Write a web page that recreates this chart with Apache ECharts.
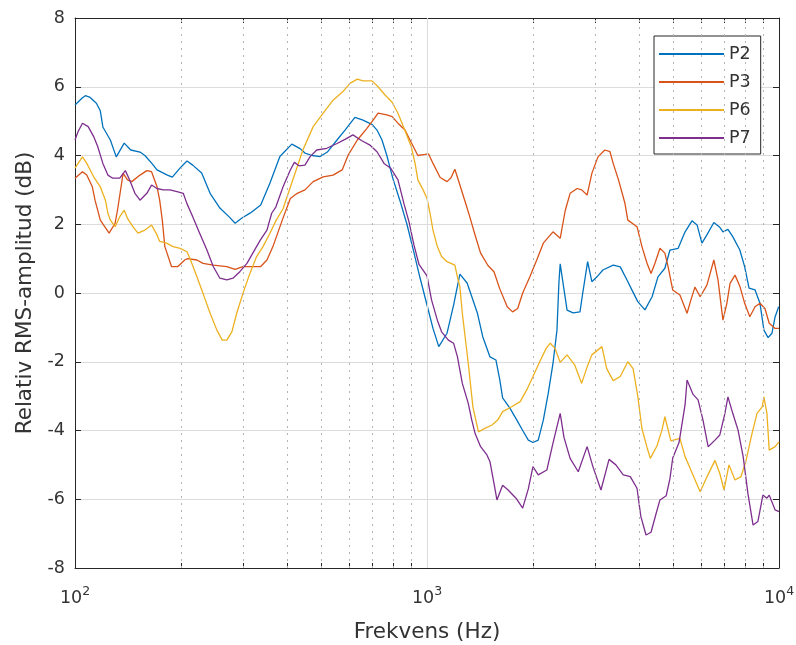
<!DOCTYPE html>
<html>
<head>
<meta charset="utf-8">
<script src="https://cdn.jsdelivr.net/npm/echarts@6/dist/echarts.min.js"></script>
<style>
html, body { margin: 0; padding: 0; background: #fff; }
#chart { width: 796px; height: 645px; }
</style>
</head>
<body>
<div id="chart"></div>
<script>
// axis ticks
var majorTicks = [100, 1000, 10000];
var minorTicks = [200, 300, 400, 500, 600, 700, 800, 900, 2000, 3000, 4000, 5000, 6000, 7000, 8000, 9000];

// P2
var p2Freq = [100, 105, 107, 110, 115, 118, 120, 126, 131, 138, 144, 153, 158, 166, 171, 183, 189, 199, 208, 216,
    229, 242, 258, 275, 285, 298, 315, 337, 358, 382, 413, 436, 450, 472, 497, 521, 555, 585, 624, 658,
    699, 721, 745, 769, 799, 837, 877, 912, 955, 1000, 1040, 1080, 1140, 1190, 1240, 1300, 1340, 1390, 1440, 1510,
    1570, 1610, 1640, 1720, 1800, 1870, 1940, 2000, 2070, 2140, 2210, 2280, 2340, 2370, 2390, 2420, 2500, 2600, 2720, 2770,
    2860, 2940, 3040, 3160, 3380, 3540, 3700, 3820, 3970, 4160, 4360, 4530, 4740, 4900, 5170, 5410, 5660, 5850, 6040, 6240,
    6530, 6790, 6930, 7160, 7390, 7740, 7990, 8220, 8550, 8830, 9060, 9310, 9550, 9750, 9980];
var p2Db = [5.47, 5.68, 5.74, 5.7, 5.52, 5.3, 4.83, 4.45, 3.96, 4.36, 4.16, 4.1, 4.0, 3.75, 3.58, 3.43, 3.37, 3.64, 3.84, 3.72,
    3.49, 2.9, 2.47, 2.2, 2.03, 2.18, 2.33, 2.56, 3.2, 3.97, 4.33, 4.2, 4.07, 4.0, 3.97, 4.1, 4.45, 4.74, 5.11, 5.03,
    4.9, 4.74, 4.45, 4.0, 3.35, 2.7, 2.0, 1.3, 0.45, -0.35, -1.03, -1.56, -1.17, -0.35, 0.55, 0.29, -0.1, -0.58, -1.27, -1.86,
    -1.95, -2.53, -3.05, -3.35, -3.7, -4.0, -4.28, -4.35, -4.28, -3.7, -2.92, -2.05, -1.08, 0.3, 0.85, 0.47, -0.5, -0.58, -0.55, 0.0,
    0.91, 0.33, 0.47, 0.67, 0.81, 0.76, 0.38, 0.09, -0.25, -0.49, -0.11, 0.47, 0.72, 1.25, 1.3, 1.78, 2.1, 1.98, 1.45, 1.69,
    2.05, 1.91, 1.78, 1.85, 1.64, 1.25, 0.76, 0.14, 0.09, -0.3, -1.08, -1.3, -1.17, -0.69, -0.4];

// P3
var p3Freq = [100, 105, 108, 112, 114, 118, 125, 130, 132, 137, 141, 145, 153, 160, 165, 171, 174, 177, 180, 188,
    196, 205, 209, 222, 231, 247, 270, 285, 300, 337, 351, 365, 388, 409, 428, 450, 475, 507, 541, 574,
    597, 634, 675, 703, 726, 769, 796, 827, 866, 902, 942, 987, 1010, 1040, 1090, 1140, 1170, 1200, 1240, 1290,
    1320, 1370, 1420, 1490, 1550, 1610, 1690, 1750, 1810, 1870, 1960, 2050, 2140, 2280, 2390, 2470, 2550, 2670, 2750, 2850,
    2940, 3060, 3200, 3310, 3380, 3500, 3650, 3720, 3950, 4080, 4220, 4330, 4440, 4590, 4740, 4840, 4990, 5230, 5480, 5620,
    5770, 5970, 6240, 6530, 6710, 6930, 7110, 7260, 7500, 7750, 7990, 8260, 8550, 8830, 9120, 9380, 9750, 10000];
var p3Db = [3.34, 3.53, 3.43, 3.09, 2.7, 2.12, 1.74, 2.03, 2.4, 3.48, 3.29, 3.24, 3.43, 3.56, 3.53, 3.09, 2.7, 2.12, 1.35, 0.77,
    0.77, 0.96, 1.0, 0.96, 0.86, 0.81, 0.77, 0.69, 0.77, 0.77, 0.96, 1.35, 2.12, 2.75, 2.9, 3.0, 3.24, 3.38, 3.43, 3.58,
    4.01, 4.45, 4.79, 5.03, 5.23, 5.18, 5.13, 4.94, 4.74, 4.38, 4.0, 4.03, 4.05, 3.77, 3.36, 3.24, 3.35, 3.6, 3.14, 2.58,
    2.25, 1.68, 1.16, 0.8, 0.62, 0.12, -0.4, -0.55, -0.45, 0.0, 0.47, 0.96, 1.45, 1.78, 1.59, 2.4, 2.9, 3.04, 3.0, 2.85,
    3.48, 3.96, 4.16, 4.11, 3.77, 3.29, 2.61, 2.12, 1.93, 1.35, 0.86, 0.57, 0.86, 1.3, 1.16, 0.77, 0.09, -0.06, -0.59, -0.2,
    0.17, -0.11, 0.23, 0.96, 0.38, -0.79, -0.3, 0.28, 0.52, 0.18, -0.3, -0.69, -0.4, -0.3, -0.45, -0.88, -1.03, -1.03];

// P6
var p6Freq = [100, 105, 108, 113, 118, 122, 124, 126, 130, 134, 138, 141, 146, 151, 158, 165, 171, 174, 182, 190,
    199, 208, 212, 222, 231, 242, 253, 262, 270, 279, 288, 300, 314, 328, 342, 358, 373, 390, 416, 444,
    475, 507, 541, 577, 604, 634, 658, 698, 726, 760, 796, 827, 860, 902, 925, 942, 975, 1000, 1020, 1040,
    1070, 1100, 1140, 1200, 1220, 1240, 1260, 1310, 1350, 1400, 1460, 1530, 1590, 1640, 1740, 1840, 1920, 2000, 2090, 2180,
    2240, 2310, 2390, 2500, 2630, 2750, 2850, 2940, 3140, 3240, 3380, 3540, 3720, 3850, 3970, 4080, 4220, 4310, 4500, 4650,
    4740, 4930, 5230, 5410, 5590, 5970, 6240, 6580, 6790, 6980, 7210, 7500, 7800, 8050, 8380, 8660, 8960, 9060, 9240, 9380,
    9750, 10000];
var p6Db = [3.63, 3.96, 3.77, 3.38, 3.09, 2.7, 2.32, 2.12, 1.93, 2.22, 2.41, 2.17, 1.93, 1.74, 1.83, 1.98, 1.69, 1.5, 1.45, 1.35,
    1.3, 1.2, 1.01, 0.47, -0.01, -0.59, -1.08, -1.37, -1.37, -1.13, -0.59, -0.01, 0.57, 1.06, 1.35, 1.74, 2.12, 2.45, 3.3, 4.16,
    4.84, 5.23, 5.61, 5.86, 6.1, 6.22, 6.17, 6.17, 6.0, 5.76, 5.55, 5.23, 4.8, 4.26, 3.77, 3.29, 3.0, 2.75, 2.32, 1.83,
    1.35, 1.06, 0.91, 0.81, 0.47, 0.18, -0.59, -2.05, -3.31, -4.04, -3.94, -3.84, -3.69, -3.45, -3.31, -3.16, -2.82, -2.43, -2.0, -1.61,
    -1.46, -1.61, -2.02, -1.8, -2.1, -2.63, -2.15, -1.8, -1.56, -2.2, -2.55, -2.43, -2.0, -2.2, -3.0, -3.95, -4.5, -4.81, -4.45, -3.99,
    -3.6, -4.3, -4.23, -4.76, -5.1, -5.78, -5.35, -4.87, -5.25, -5.73, -5.0, -5.44, -5.34, -4.9, -4.09, -3.5, -3.31, -3.02, -3.5, -4.57,
    -4.47, -4.33];

// P7
var p7Freq = [100, 102, 105, 109, 113, 116, 120, 124, 128, 134, 139, 143, 148, 153, 160, 165, 171, 178, 186, 195,
    203, 208, 216, 226, 237, 247, 258, 270, 281, 294, 308, 320, 336, 351, 362, 372, 390, 409, 420, 433,
    450, 465, 486, 519, 555, 585, 616, 653, 689, 721, 755, 789, 827, 860, 889, 918, 949, 1000, 1030, 1070,
    1100, 1150, 1190, 1220, 1260, 1310, 1340, 1370, 1420, 1480, 1510, 1550, 1580, 1640, 1700, 1790, 1870, 1940, 2000, 2070,
    2190, 2280, 2390, 2450, 2550, 2690, 2850, 2960, 3120, 3290, 3440, 3610, 3780, 3950, 4050, 4190, 4330, 4480, 4590, 4780,
    4900, 4990, 5200, 5410, 5480, 5700, 5890, 6080, 6290, 6580, 6790, 7020, 7160, 7390, 7650, 7910, 8160, 8440, 8710, 9000,
    9240, 9380, 9750, 10000];
var p7Db = [4.45, 4.69, 4.94, 4.84, 4.55, 4.26, 3.77, 3.43, 3.34, 3.34, 3.56, 3.29, 2.9, 2.7, 2.9, 3.14, 3.04, 3.0, 3.0, 2.95,
    2.9, 2.6, 2.22, 1.74, 1.25, 0.77, 0.43, 0.38, 0.43, 0.62, 0.86, 1.16, 1.54, 1.83, 2.32, 2.5, 3.09, 3.58, 3.8, 3.7,
    3.72, 3.96, 4.16, 4.21, 4.35, 4.47, 4.6, 4.43, 4.3, 4.11, 3.77, 3.63, 3.29, 2.6, 2.07, 1.4, 0.83, 0.5, -0.2, -0.79,
    -1.13, -1.37, -1.46, -1.85, -2.63, -3.21, -3.69, -4.09, -4.47, -4.71, -4.91, -5.54, -6.02, -5.59, -5.73, -5.97, -6.26, -5.7, -5.05, -5.29,
    -5.15, -4.37, -3.5, -4.2, -4.81, -5.2, -4.47, -5.05, -5.73, -4.84, -5.0, -5.29, -5.34, -5.68, -6.5, -7.04, -6.96, -6.4, -6.02, -5.9,
    -5.4, -4.8, -4.35, -3.25, -2.53, -2.95, -3.11, -3.69, -4.47, -4.28, -4.13, -3.5, -3.02, -3.5, -3.99, -4.76, -5.83, -6.75, -6.65, -5.88,
    -5.97, -5.88, -6.31, -6.36];

var names = ['P2', 'P3', 'P6', 'P7'];
var colors = ['#0072BD', '#D95319', '#EDB120', '#7E2F8E'];
var freqs = [p2Freq, p3Freq, p6Freq, p7Freq];
var values = [p2Db, p3Db, p6Db, p7Db];

var FONT = 'DejaVu Sans';
var TEXT = '#333333';
var AXIS = '#262626';

function zip(xs, ys) {
    var out = [];
    for (var i = 0; i < xs.length; i++) out.push([xs[i], ys[i]]);
    return out;
}

var gridLines = [{ xAxis: 1000, lineStyle: { color: '#dcdcdc', type: 'solid', width: 1 } }];
minorTicks.forEach(function (v) {
    gridLines.push({ xAxis: v, lineStyle: { color: '#b4b4b4', type: [2, 5], width: 1 } });
});

var series = [{
    name: 'grid',
    type: 'line',
    data: [],
    z: 1,
    silent: true,
    markLine: {
        silent: true,
        symbol: ['none', 'none'],
        label: { show: false },
        animation: false,
        data: gridLines
    }
}];
names.forEach(function (n, i) {
    series.push({
        name: n,
        type: 'line',
        data: zip(freqs[i], values[i]),
        showSymbol: false,
        symbol: 'none',
        z: 3,
        lineStyle: { color: colors[i], width: 1.3 },
        itemStyle: { color: colors[i] }
    });
});

var chart = echarts.init(document.getElementById('chart'));
chart.setOption({
    animation: false,
    backgroundColor: '#fff',
    grid: { left: 75, right: 17, top: 18, bottom: 77, outerBoundsMode: 'none', containLabel: false },
    legend: {
        data: names,
        orient: 'vertical',
        left: 654,
        top: 36,
        padding: [9, 10, 7, 5],
        itemGap: 10,
        itemWidth: 65,
        itemHeight: 2,
        icon: 'rect',
        backgroundColor: '#fff',
        borderColor: AXIS,
        borderWidth: 1,
        borderRadius: 0,
        textStyle: { fontFamily: FONT, fontSize: 17.5, color: TEXT }
    },
    xAxis: [{
        type: 'log',
        logBase: 10,
        min: 100,
        max: 10000,
        position: 'bottom',
        name: 'Frekvens (Hz)',
        nameLocation: 'middle',
        nameGap: 53,
        nameTextStyle: { fontFamily: FONT, fontSize: 21.5, color: TEXT },
        axisLine: { show: true, onZero: false, lineStyle: { color: AXIS, width: 1 } },
        axisTick: { show: true, inside: true, length: 5, customValues: majorTicks.concat(minorTicks), lineStyle: { color: AXIS } },
        axisLabel: {
            customValues: majorTicks,
            margin: 17,
            formatter: function (v) {
                return '{b|10}{s|' + Math.round(Math.log10(v)) + '}';
            },
            rich: {
                b: { fontFamily: FONT, fontSize: 17.5, color: TEXT, lineHeight: 26 },
                s: { fontFamily: FONT, fontSize: 12.5, color: TEXT, lineHeight: 12, verticalAlign: 'top' }
            }
        },
        splitLine: { show: false }
    }, {
        type: 'log',
        logBase: 10,
        min: 100,
        max: 10000,
        position: 'top',
        axisLine: { show: true, onZero: false, lineStyle: { color: AXIS, width: 1 } },
        axisTick: { show: true, inside: true, length: 5, customValues: majorTicks.concat(minorTicks), lineStyle: { color: AXIS } },
        axisLabel: { show: false },
        splitLine: { show: false }
    }],
    yAxis: [{
        type: 'value',
        min: -8,
        max: 8,
        interval: 2,
        position: 'left',
        name: 'Relativ RMS-amplitud (dB)',
        nameLocation: 'middle',
        nameGap: 38,
        nameTextStyle: { fontFamily: FONT, fontSize: 21.5, color: TEXT },
        axisLine: { show: true, onZero: false, lineStyle: { color: AXIS, width: 1 } },
        axisTick: { show: true, inside: true, length: 6, lineStyle: { color: AXIS } },
        axisLabel: { fontFamily: FONT, fontSize: 17.5, color: TEXT, margin: 10 },
        splitLine: { show: true, lineStyle: { color: '#dcdcdc', width: 1 } }
    }, {
        type: 'value',
        min: -8,
        max: 8,
        interval: 2,
        position: 'right',
        axisLine: { show: true, onZero: false, lineStyle: { color: AXIS, width: 1 } },
        axisTick: { show: true, inside: true, length: 6, lineStyle: { color: AXIS } },
        axisLabel: { show: false },
        splitLine: { show: false }
    }],
    series: series
});
</script>
</body>
</html>
